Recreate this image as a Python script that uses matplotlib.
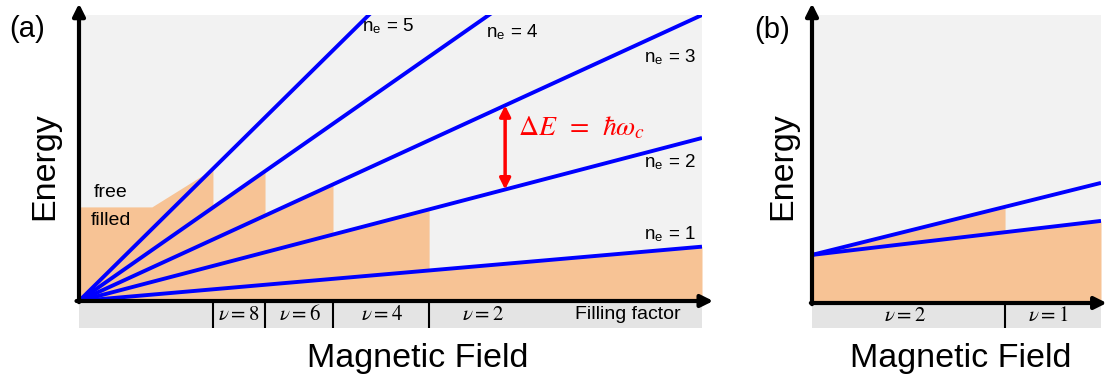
import numpy as np
import matplotlib.pyplot as plt

plt.rcParams['font.family'] = ['Liberation Sans', 'DejaVu Sans']
plt.rcParams['mathtext.fontset'] = 'stix'

# Landau levels, E = slope * B  (panel a)
level_n = [1, 2, 3, 4, 5]
level_slope = [0.19, 0.57, 1.0, 1.52, 2.15]
# field values where the filling factor jumps
nu_edges = [0.215, 0.2986, 0.4077, 0.562]
nu_labels = [8, 6, 4, 2]
nu_label_x = [0.257, 0.355, 0.487, 0.648]
# Fermi level at low field, before the first jump
ef_low_b = [0.0, 0.117, 0.215]
ef_low_e = [0.329, 0.329, 0.462]

# spin split level (panel b)
b_offset = 0.167
b_slope = [0.118, 0.25]
b_edge = 0.668
b_labels = [2, 1]
b_label_x = [0.322, 0.817]

BG = '#f2f2f2'
STRIP = '#e4e4e4'
FILL = '#f7c395'
BLUE = '#0000ff'

W, H = 1107, 383
fig = plt.figure(figsize=(W / 100, H / 100), dpi=100)


def axes_px(x0, x1, y_top, y_bot):
    return fig.add_axes([x0 / W, 1 - y_bot / H, (x1 - x0) / W, (y_bot - y_top) / H])


def draw_axes_arrows(ax, xend, yend):
    kw = dict(arrowstyle='-|>', lw=3, color='k', mutation_scale=18,
              shrinkA=0, shrinkB=0)
    ax.annotate('', xy=(0, yend), xytext=(0, -0.004), arrowprops=kw, annotation_clip=False)
    ax.annotate('', xy=(xend, 0), xytext=(-0.004, 0), arrowprops=kw, annotation_clip=False)


# ---------- (a) ----------
ax = axes_px(79, 702, 15, 328)
strip_a = 27 / 286
ax.set_xlim(0, 1)
ax.set_ylim(-strip_a, 1)
ax.axis('off')
ax.axhspan(0, 1, color=BG, lw=0)
ax.axhspan(-strip_a, 0, color=STRIP, lw=0)

# filled states: Fermi level follows the highest occupied level
edges = nu_edges + [1.0]
fx = list(ef_low_b)
fy = list(ef_low_e)
for i in range(len(nu_edges)):
    lo, hi = edges[i], edges[i + 1]
    s = level_slope[len(level_slope) - 2 - i]
    fx += [lo, hi]
    fy += [s * lo, s * hi]
ax.fill_between(fx, 0, fy, color=FILL, lw=0)

x = np.array([0, 1])
for s in level_slope:
    ax.plot(x, s * x, color=BLUE, lw=2.8, solid_capstyle='butt')

for e in nu_edges:
    ax.plot([e, e], [-strip_a, 0], color='k', lw=1.5)
for lx, n in zip(nu_label_x, nu_labels):
    ax.text(lx, -strip_a / 2, r'$\nu = %d$' % n, ha='center', va='center', fontsize=15)
ax.text(0.881, -strip_a / 2, 'Filling factor', ha='center', va='center', fontsize=14)

ne_pos = [(0.907, 0.234), (0.907, 0.486), (0.907, 0.853), (0.653, 0.94), (0.454, 0.962)]
for n, (tx, ty) in zip(level_n, ne_pos):
    ax.text(tx, ty, r'n$_\mathregular{e}$ = %d' % n, fontsize=13.5, va='center', ha='left')

ax.text(0.024, 0.378, 'free', fontsize=14, va='center')
ax.text(0.019, 0.28, 'filled', fontsize=14, va='center')

ax0 = 0.684
ax.annotate('', xy=(ax0, level_slope[2] * ax0), xytext=(ax0, level_slope[1] * ax0),
            arrowprops=dict(arrowstyle='<|-|>', lw=2.5, color='#ff0000',
                            mutation_scale=16, shrinkA=0, shrinkB=0))
ax.text(0.705, 0.605, r'$\Delta E\ \,=\ \,\hbar\omega_c$', color='#ff0000', fontsize=20,
        va='center', ha='left')

draw_axes_arrows(ax, 1.018, 1.04)

# ---------- (b) ----------
bx = axes_px(812, 1101, 15, 328)
strip_b = 25 / 288
bx.set_xlim(0, 1)
bx.set_ylim(-strip_b, 1)
bx.axis('off')
bx.axhspan(0, 1, color=BG, lw=0)
bx.axhspan(-strip_b, 0, color=STRIP, lw=0)

gx = [0, b_edge, b_edge, 1]
gy = [b_offset, b_offset + b_slope[1] * b_edge,
      b_offset + b_slope[0] * b_edge, b_offset + b_slope[0]]
bx.fill_between(gx, 0, gy, color=FILL, lw=0)
for s in b_slope:
    bx.plot(x, b_offset + s * x, color=BLUE, lw=2.8, solid_capstyle='butt')

bx.plot([b_edge, b_edge], [-strip_b, 0], color='k', lw=1.5)
for lx, n in zip(b_label_x, b_labels):
    bx.text(lx, -strip_b / 2, r'$\nu = %d$' % n, ha='center', va='center', fontsize=15)

draw_axes_arrows(bx, 1.02, 1.04)

# ---------- titles ----------
fig.text(27 / W, 1 - 29 / H, '(a)', fontsize=21, ha='center', va='center')
fig.text(45 / W, 1 - 166 / H, 'Energy', fontsize=24.5, rotation=90, ha='center', va='center')
fig.text(418 / W, 1 - 358 / H, 'Magnetic Field', fontsize=24.5, ha='center', va='center')
fig.text(772 / W, 1 - 30 / H, '(b)', fontsize=21, ha='center', va='center')
fig.text(783 / W, 1 - 166 / H, 'Energy', fontsize=24.5, rotation=90, ha='center', va='center')
fig.text(961 / W, 1 - 358 / H, 'Magnetic Field', fontsize=24.5, ha='center', va='center')

fig.savefig('out.png', dpi=100, facecolor='white')
